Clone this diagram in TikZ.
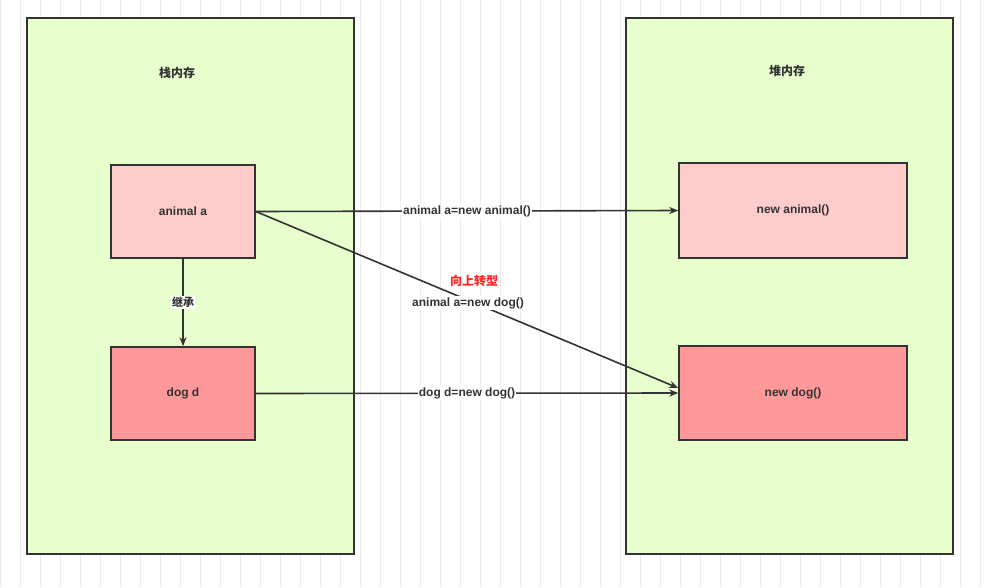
\documentclass[tikz,border=0pt]{standalone}
\usepackage{fontspec}
\setmainfont{Liberation Sans}
\newfontfamily\cjk{Noto Sans CJK SC}
\usetikzlibrary{arrows.meta}
\definecolor{cont}{HTML}{E6FFCC}
\definecolor{pinkA}{HTML}{FFCCCC}
\definecolor{pinkB}{HTML}{FF9999}
\definecolor{edge}{HTML}{333333}
\begin{document}
\begin{tikzpicture}[x=1pt,y=-1pt,
  box/.style={draw=edge,line width=1.6pt,minimum width=#1,inner sep=0pt,font=\fontsize{12}{14}\selectfont\bfseries,text=edge},
  con/.style={draw=edge,line width=1.6pt,-{Stealth[length=9pt,width=7pt]}},
  lab/.style={fill=white,inner sep=1pt,font=\fontsize{12}{14}\selectfont\bfseries,text=edge},
  ttl/.style={font=\fontsize{12}{14}\selectfont\cjk\bfseries,text=edge}]
\useasboundingbox (0,0) rectangle (991,587);
\fill[white] (0,0) rectangle (991,587);
\draw[black!7,line width=0.5pt] (0,0) grid[step=20] (991,587);
\node[box=327,minimum height=536,fill=cont] (stack) at (190.5,286) {};
\node[box=327,minimum height=536,fill=cont] (heap) at (789.5,286) {};
\node[ttl] (st) at (177,73) {栈内存};
\node[ttl] (ht) at (787,71) {堆内存};
\node[box=144,minimum height=93,fill=pinkA] (a) at (183,211.5) {animal a};
\node[box=144,minimum height=93,fill=pinkB] (d) at (183,393.5) {dog d};
\node[box=228,minimum height=95,fill=pinkA] (na) at (793,210.5) {new animal()};
\node[box=228,minimum height=94,fill=pinkB] (nd) at (793,393) {new dog()};
\draw[con] (a.east) -- node[lab,pos=0.5] {animal a=new animal()} (na.west);
\draw[con] (d.east) -- node[lab] {dog d=new dog()} (nd.west);
\draw[con] (a.east) -- (nd.west |- 0,388);
\node[font=\fontsize{12}{14}\selectfont\cjk\bfseries,text=red!85!white] (up) at (474,281) {向上转型};
\node[lab] (ad) at (468,303) {animal a=new dog()};
\draw[con] (a.south) -- node[lab,font=\fontsize{11}{13}\selectfont\cjk\bfseries] {继承} (d.north);
\end{tikzpicture}
\end{document}
